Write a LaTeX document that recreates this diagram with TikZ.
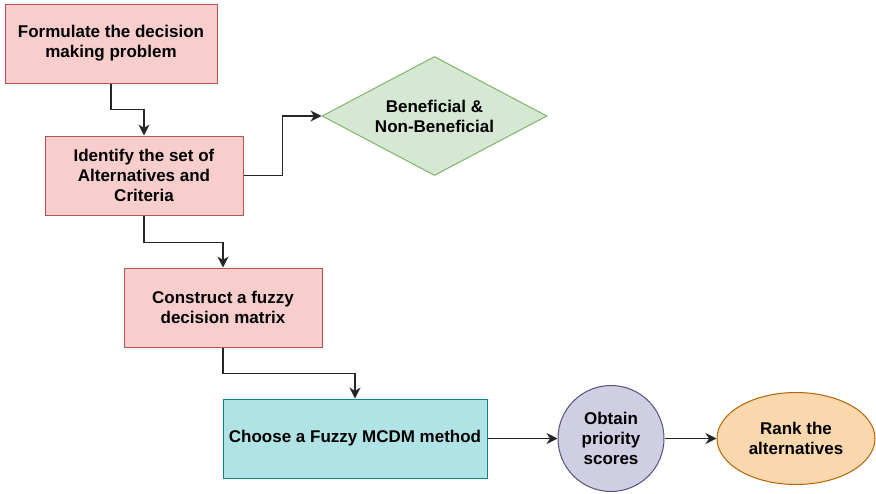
\documentclass[tikz,border=0pt]{standalone}
\usepackage{fontspec}
\setmainfont{Liberation Sans}
\usetikzlibrary{shapes.geometric,arrows.meta}
\definecolor{redfill}{HTML}{F8CECC}
\definecolor{redline}{HTML}{B85450}
\definecolor{greenfill}{HTML}{D5E8D4}
\definecolor{greenline}{HTML}{82B366}
\definecolor{cyanfill}{HTML}{B0E3E6}
\definecolor{cyanline}{HTML}{0E8088}
\definecolor{purplefill}{HTML}{D0CEE2}
\definecolor{purpleline}{HTML}{56517E}
\definecolor{orangefill}{HTML}{FAD7AC}
\definecolor{orangeline}{HTML}{B46504}
\begin{document}
\begin{tikzpicture}[x=1pt,y=-1pt,
  every node/.style={font=\fontsize{17}{20}\selectfont\bfseries, align=center, inner sep=0pt, line width=1pt},
  stepbox/.style={rectangle, draw=redline, fill=redfill},
  methodbox/.style={rectangle, draw=cyanline, fill=cyanfill},
  decision/.style={diamond, draw=greenline, fill=greenfill, shape aspect=1.89},
  scorebox/.style={circle, draw=purpleline, fill=purplefill},
  rankbox/.style={ellipse, draw=orangeline, fill=orangefill},
  flow/.style={draw=black!85, line width=1.5pt, -{Stealth[length=11pt,width=11pt,inset=3.5pt]}}
]
\useasboundingbox (0,0) rectangle (876,493);

\node[stepbox, minimum width=212pt, minimum height=79pt] (b1) at (111,43.5)
  {Formulate the decision\\making problem};
\node[stepbox, minimum width=198pt, minimum height=79pt] (b2) at (144,175.5)
  {Identify the set of\\Alternatives and\\Criteria};
\node[decision, minimum width=225pt, minimum height=119pt] (dia) at (434.5,116)
  {Beneficial \&\\Non-Beneficial};
\node[stepbox, minimum width=198pt, minimum height=79pt] (b3) at (223,307.5)
  {Construct a fuzzy\\decision matrix};
\node[methodbox, minimum width=264pt, minimum height=79pt] (b4) at (355,438.5)
  {Choose a Fuzzy MCDM method};
\node[scorebox, minimum size=106pt] (sc) at (611,438.5)
  {Obtain\\priority\\scores};
\node[rankbox, minimum width=158pt, minimum height=92pt] (rk) at (796,438.5)
  {Rank the\\alternatives};

\draw[flow] (b1.south) -- ++(0,26) -| (b2.north);
\draw[flow] (b2.east) -- ++(39,0) |- (dia.west);
\draw[flow] (b2.south) -- ++(0,27) -| (b3.north);
\draw[flow] (b3.south) -- ++(0,26) -| (b4.north);
\draw[flow] (b4.east) -- (sc.west);
\draw[flow] (sc.east) -- (rk.west);
\end{tikzpicture}
\end{document}
